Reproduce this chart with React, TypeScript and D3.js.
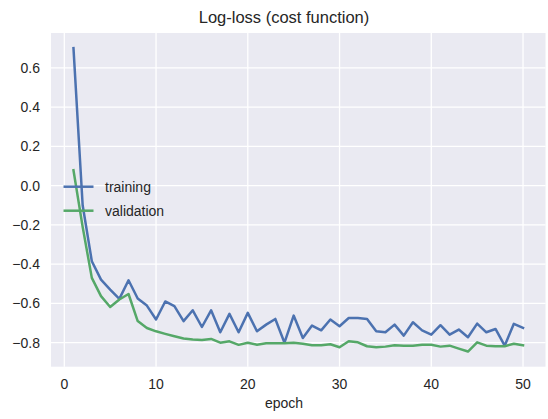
import React from 'react';
import * as d3 from 'd3';

const epochs = [
  1, 2, 3, 4, 5, 6, 7, 8, 9, 10, 11, 12, 13, 14, 15, 16, 17, 18, 19, 20, 21, 22, 23, 24, 25,
  26, 27, 28, 29, 30, 31, 32, 33, 34, 35, 36, 37, 38, 39, 40, 41, 42, 43, 44, 45, 46, 47, 48, 49, 50,
];

const training = [
  0.70, -0.10, -0.385, -0.479, -0.53, -0.577, -0.482, -0.575, -0.611, -0.682,
  -0.59, -0.614, -0.69, -0.635, -0.72, -0.635, -0.747, -0.653, -0.747, -0.648,
  -0.742, -0.708, -0.679, -0.80, -0.662, -0.776, -0.713, -0.737, -0.682, -0.716,
  -0.674, -0.674, -0.679, -0.742, -0.747, -0.708, -0.764, -0.696, -0.737, -0.759,
  -0.711, -0.759, -0.733, -0.772, -0.703, -0.747, -0.73, -0.815, -0.704, -0.725,
];

const validation = [
  0.078, -0.21, -0.47, -0.563, -0.618, -0.58, -0.552, -0.69, -0.725, -0.742,
  -0.755, -0.767, -0.779, -0.784, -0.786, -0.781, -0.80, -0.793, -0.811, -0.80,
  -0.81, -0.803, -0.803, -0.803, -0.80, -0.805, -0.813, -0.813, -0.808, -0.823,
  -0.793, -0.798, -0.818, -0.823, -0.82, -0.813, -0.815, -0.815, -0.81, -0.81,
  -0.82, -0.815, -0.83, -0.845, -0.798, -0.815, -0.818, -0.818, -0.805, -0.813,
];

const xTicks = [0, 10, 20, 30, 40, 50];
const yTicks = [-0.8, -0.6, -0.4, -0.2, 0.0, 0.2, 0.4, 0.6];

const series = [
  { name: 'training', values: training, color: '#4C72B0' },
  { name: 'validation', values: validation, color: '#55A868' },
];

const W = 548;
const H = 419;
const plot = { left: 51, right: 545.5, top: 33, bottom: 366.7 };
const font = '"Liberation Sans", Arial, sans-serif';
const textColor = '#262626';

const fmtY = (v: number) => (v < 0 ? '\u2212' : '') + Math.abs(v).toFixed(1);

export default function App() {
  // matplotlib-style 5% padding on the data limits
  const [x0, x1] = d3.extent(epochs) as [number, number];
  const xPad = (x1 - x0) * 0.05;
  const x = d3.scaleLinear().domain([x0 - xPad, x1 + xPad]).range([plot.left, plot.right]);

  const all = [...training, ...validation];
  const [y0, y1] = d3.extent(all) as [number, number];
  const yPad = (y1 - y0) * 0.05;
  const y = d3.scaleLinear().domain([y0 - yPad, y1 + yPad]).range([plot.bottom, plot.top]);

  const line = d3
    .line<number>()
    .x((_, i) => x(epochs[i]))
    .y((d) => y(d));

  const legendY = [186.7, 210.7];

  return (
    <svg
      width={W}
      height={H}
      style={{ position: 'absolute', left: 0, top: 0, background: '#fff' }}
      fontFamily={font}
    >
      <defs>
        <clipPath id="plotClip">
          <rect x={plot.left} y={plot.top} width={plot.right - plot.left} height={plot.bottom - plot.top} />
        </clipPath>
      </defs>

      {/* axes background */}
      <rect
        x={plot.left}
        y={plot.top}
        width={plot.right - plot.left}
        height={plot.bottom - plot.top}
        fill="#EAEAF2"
      />

      {/* grid */}
      <g stroke="#fff" strokeWidth={1.3}>
        {xTicks.map((t) => (
          <line key={'gx' + t} x1={x(t)} x2={x(t)} y1={plot.top} y2={plot.bottom} />
        ))}
        {yTicks.map((t) => (
          <line key={'gy' + t} x1={plot.left} x2={plot.right} y1={y(t)} y2={y(t)} />
        ))}
      </g>

      {/* series */}
      <g clipPath="url(#plotClip)" fill="none" strokeWidth={2.5} strokeLinejoin="round" strokeLinecap="square">
        {series.map((s) => (
          <path key={s.name} d={line(s.values) || ''} stroke={s.color} />
        ))}
      </g>

      {/* legend (no frame) */}
      <g>
        {series.map((s, i) => (
          <g key={'lg' + s.name}>
            <line x1={63.5} x2={93.5} y1={legendY[i]} y2={legendY[i]} stroke={s.color} strokeWidth={2.5} />
            <text x={105} y={legendY[i] + 5} fontSize={14} fill={textColor}>
              {s.name}
            </text>
          </g>
        ))}
      </g>

      {/* x tick labels */}
      <g fontSize={14} fill={textColor} textAnchor="middle">
        {xTicks.map((t) => (
          <text key={'tx' + t} x={x(t)} y={389}>
            {t}
          </text>
        ))}
      </g>

      {/* y tick labels */}
      <g fontSize={14} fill={textColor} textAnchor="end">
        {yTicks.map((t) => (
          <text key={'ty' + t} x={40} y={y(t) + 5}>
            {fmtY(t)}
          </text>
        ))}
      </g>

      <text x={284} y={408} fontSize={14} fill={textColor} textAnchor="middle">
        epoch
      </text>

      <text x={284} y={23} fontSize={16.5} fill={textColor} textAnchor="middle">
        Log-loss (cost function)
      </text>
    </svg>
  );
}
